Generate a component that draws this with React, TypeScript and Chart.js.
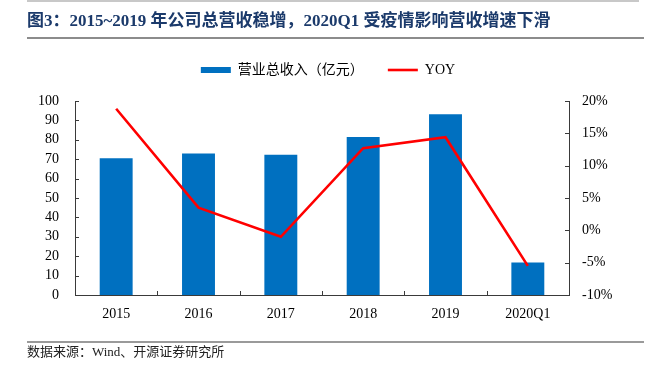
import React, { useEffect, useRef } from 'react';
import { Chart, registerables } from 'chart.js';

Chart.register(...registerables);

const categories = ['2015', '2016', '2017', '2018', '2019', '2020Q1'];
const revenue = [70.5, 73.0, 72.3, 81.4, 93.2, 16.8];
const yoy = [18.8, 3.5, -1.0, 12.7, 14.4, -5.5];
const revenueLabel = '营业总收入（亿元）';
const yoyLabel = 'YOY';
const leftMin = 0;
const leftMax = 100;
const leftStep = 10;
const rightMin = -10;
const rightMax = 20;
const rightStep = 5;
const titleText = '图3：2015~2019 年公司总营收稳增，2020Q1 受疫情影响营收增速下滑';
const sourceText = '数据来源：Wind、开源证券研究所';

const FONT = "'Liberation Serif', 'Times New Roman', 'Noto Sans CJK SC', serif";
const AXIS_COLOR = '#3a3a3a';

const W = 656;
const H = 365;
const CHART_LEFT = 75;
const CHART_RIGHT = 569;
const CHART_TOP = 101;
const CHART_BOTTOM = 295;
const PAD_TOP = 39;
const LEGEND_PAD = 24;

const innerTicks = {
  id: 'innerTicks',
  beforeInit(chart: any) {
    const lg = chart.legend;
    if (lg) {
      const orig = lg.fit;
      lg.fit = function () {
        orig.call(this);
        this.height = CHART_TOP - PAD_TOP;
      };
    }
  },
  afterDraw(chart: any) {
    const { ctx, chartArea, scales } = chart;
    ctx.save();
    ctx.strokeStyle = AXIS_COLOR;
    ctx.lineWidth = 1;
    const len = 4;
    const y = scales.y;
    y.ticks.forEach((_t: any, i: number) => {
      const py = Math.round(y.getPixelForTick(i)) + 0.5;
      ctx.beginPath();
      ctx.moveTo(chartArea.left, py);
      ctx.lineTo(chartArea.left + len, py);
      ctx.stroke();
    });
    const y1 = scales.y1;
    y1.ticks.forEach((_t: any, i: number) => {
      const py = Math.round(y1.getPixelForTick(i)) + 0.5;
      ctx.beginPath();
      ctx.moveTo(chartArea.right - len, py);
      ctx.lineTo(chartArea.right, py);
      ctx.stroke();
    });
    const x = scales.x;
    for (let i = 0; i <= categories.length; i++) {
      const px = Math.round(x.getPixelForValue(i - 0.5)) + 0.5;
      ctx.beginPath();
      ctx.moveTo(px, chartArea.bottom);
      ctx.lineTo(px, chartArea.bottom - len);
      ctx.stroke();
    }
    ctx.restore();
  },
};

function ChartCanvas() {
  const ref = useRef<HTMLCanvasElement | null>(null);
  useEffect(() => {
    if (!ref.current) return;
    const chart = new Chart(ref.current, {
      type: 'bar',
      data: {
        labels: categories,
        datasets: [
          {
            type: 'bar',
            label: revenueLabel,
            data: revenue,
            yAxisID: 'y',
            backgroundColor: '#0070C0',
            borderWidth: 0,
            barPercentage: 0.4,
            categoryPercentage: 1,
            pointStyle: 'rect',
            order: 2,
          } as any,
          {
            type: 'line',
            label: yoyLabel,
            data: yoy,
            yAxisID: 'y1',
            borderColor: '#FF0000',
            backgroundColor: '#FF0000',
            borderWidth: 2.6,
            pointRadius: 0,
            tension: 0,
            pointStyle: 'line',
            order: 1,
          } as any,
        ],
      },
      options: {
        responsive: false,
        animation: false,
        layout: { padding: { top: PAD_TOP, left: 0, right: 0, bottom: 0 } },
        plugins: {
          tooltip: { enabled: false },
          legend: {
            display: true,
            position: 'top',
            labels: {
              font: { family: FONT, size: 14 },
              color: '#000',
              usePointStyle: true,
              pointStyleWidth: 30,
              boxWidth: 30,
              boxHeight: 6,
              padding: LEGEND_PAD,
              sort: (a: any, b: any) => a.datasetIndex - b.datasetIndex,
            },
          },
        },
        scales: {
          x: {
            offset: true,
            grid: { display: false, drawTicks: false },
            border: { display: true, color: AXIS_COLOR, width: 1 },
            ticks: { font: { family: FONT, size: 14 }, color: '#000', padding: 11, maxRotation: 0, autoSkip: false },
            afterFit: (s: any) => { s.height = H - CHART_BOTTOM; },
          },
          y: {
            position: 'left',
            min: leftMin,
            max: leftMax,
            grid: { display: false, drawTicks: false },
            border: { display: true, color: AXIS_COLOR, width: 1 },
            ticks: { stepSize: leftStep, autoSkip: false, font: { family: FONT, size: 14 }, color: '#000', padding: 16 },
            afterFit: (s: any) => { s.width = CHART_LEFT; },
          },
          y1: {
            position: 'right',
            min: rightMin,
            max: rightMax,
            grid: { display: false, drawTicks: false },
            border: { display: true, color: AXIS_COLOR, width: 1 },
            ticks: {
              stepSize: rightStep,
              autoSkip: false,
              font: { family: FONT, size: 14 },
              color: '#000',
              padding: 13,
              callback: (v: any) => v + '%',
            },
            afterFit: (s: any) => { s.width = W - CHART_RIGHT; },
          },
        },
      } as any,
      plugins: [innerTicks as any],
    });
    return () => chart.destroy();
  }, []);
  return (
    <canvas
      ref={ref}
      width={W}
      height={H}
      style={{ position: 'absolute', left: 0, top: 0, width: W, height: H }}
    />
  );
}

export default function App() {
  return (
    <div
      style={{
        position: 'absolute',
        left: 0,
        top: 0,
        width: W,
        height: H,
        background: '#fff',
        overflow: 'hidden',
      }}
    >
      <ChartCanvas />
      <div style={{ position: 'absolute', left: 27, top: 0, width: 612, height: 2, background: '#c8c8c8' }} />
      <div
        style={{
          position: 'absolute',
          left: 27,
          top: 10,
          height: 22,
          lineHeight: '22px',
          whiteSpace: 'nowrap',
          fontFamily: FONT,
          fontWeight: 'bold',
          fontSize: 17,
          color: '#1B3A6B',
        }}
      >
        {titleText}
      </div>
      <div style={{ position: 'absolute', left: 27, top: 37, width: 617, height: 2, background: '#8c8c8c' }} />
      <div style={{ position: 'absolute', left: 27, top: 341, width: 617, height: 2, background: '#9a9a9a' }} />
      <div
        style={{
          position: 'absolute',
          left: 27,
          top: 343,
          height: 18,
          lineHeight: '18px',
          whiteSpace: 'nowrap',
          fontFamily: FONT,
          fontSize: 13,
          color: '#222',
        }}
      >
        {sourceText}
      </div>
    </div>
  );
}
